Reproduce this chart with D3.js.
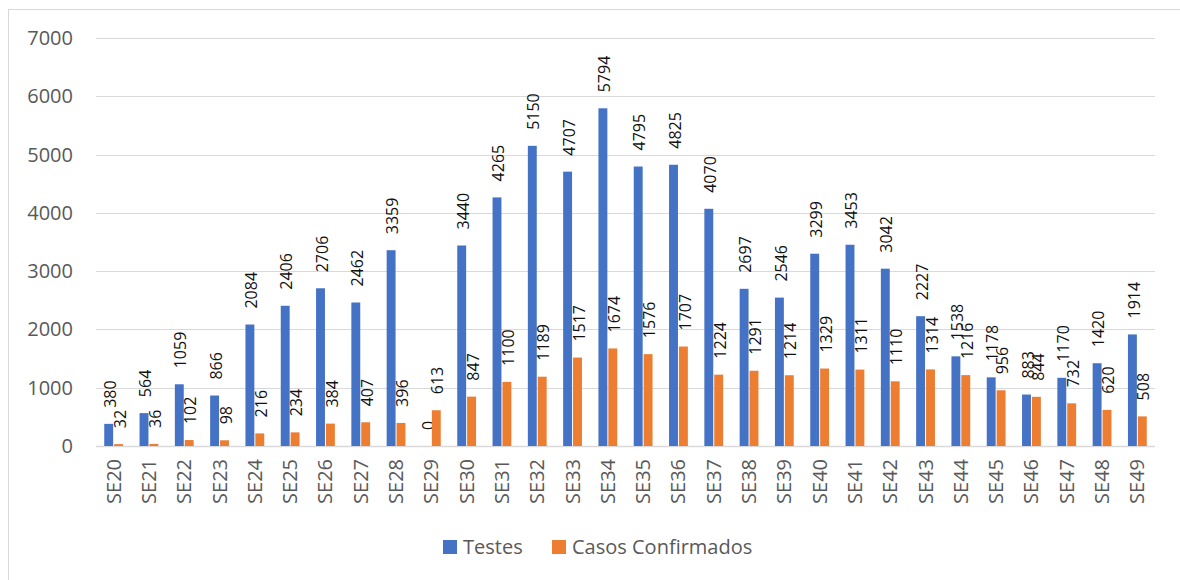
<!DOCTYPE html>
<html lang="pt">
<head>
    <meta charset="UTF-8">
    <title>Testes e Casos Confirmados por SE</title>
    <script src="https://d3js.org/d3.v7.min.js"></script>
    <style>
        body {
            margin: 0;
            background: #fff;
            font-family: "Open Sans", "DejaVu Sans", sans-serif;
        }
        .grid line { stroke: #d9d9d9; stroke-width: 1; }
        .tick-label { fill: #595959; font-size: 20px; }
        .value-label { fill: #111; font-size: 16px; }
    </style>
</head>
<body>
    <svg width="1180" height="580"></svg>
    <script>
        const semanas = ["SE20","SE21","SE22","SE23","SE24","SE25","SE26","SE27","SE28","SE29",
                         "SE30","SE31","SE32","SE33","SE34","SE35","SE36","SE37","SE38","SE39",
                         "SE40","SE41","SE42","SE43","SE44","SE45","SE46","SE47","SE48","SE49"];
        const testes = [380, 564, 1059, 866, 2084, 2406, 2706, 2462, 3359, 0,
                        3440, 4265, 5150, 4707, 5794, 4795, 4825, 4070, 2697, 2546,
                        3299, 3453, 3042, 2227, 1538, 1178, 883, 1170, 1420, 1914];
        const confirmados = [32, 36, 102, 98, 216, 234, 384, 407, 396, 613,
                             847, 1100, 1189, 1517, 1674, 1576, 1707, 1224, 1291, 1214,
                             1329, 1311, 1110, 1314, 1216, 956, 844, 732, 620, 508];
        const yTicks = [0, 1000, 2000, 3000, 4000, 5000, 6000, 7000];
        const seriesNames = ["Testes", "Casos Confirmados"];
        const colors = ["#4472c4", "#ed7d31"];

        const svg = d3.select("svg");

        // chart area border (only left/top visible in the frame)
        svg.append("rect")
            .attr("x", 8.5).attr("y", 9.5)
            .attr("width", 1200).attr("height", 600)
            .attr("fill", "none")
            .attr("stroke", "#d9d9d9");

        const plotLeft = 96, plotRight = 1155, plotTop = 38, plotBottom = 446;

        const x = d3.scaleBand()
            .domain(semanas)
            .range([plotLeft, plotRight]);
        const bw = x.bandwidth();
        const xs = d3.scaleBand()
            .domain(seriesNames)
            .range([bw / 2 - 9.4, bw / 2 + 9.4])
            .paddingInner(0.1);
        const y = d3.scaleLinear()
            .domain([0, 7000])
            .range([plotBottom, plotTop]);

        // gridlines
        svg.append("g")
            .attr("class", "grid")
            .selectAll("line")
            .data(yTicks)
            .join("line")
            .attr("x1", plotLeft).attr("x2", plotRight)
            .attr("y1", d => Math.round(y(d)) + 0.5)
            .attr("y2", d => Math.round(y(d)) + 0.5)
            .style("stroke-width", d => d === 0 ? 1.5 : 1);

        // y labels
        svg.append("g")
            .selectAll("text")
            .data(yTicks)
            .join("text")
            .attr("class", "tick-label")
            .attr("x", 73)
            .attr("y", d => y(d))
            .attr("dy", "0.35em")
            .attr("text-anchor", "end")
            .text(d => d);

        const rows = semanas.map((s, i) => ({ semana: s, values: [testes[i], confirmados[i]] }));

        const groups = svg.append("g")
            .selectAll("g")
            .data(rows)
            .join("g")
            .attr("transform", d => "translate(" + x(d.semana) + ",0)");

        const bars = groups.selectAll("g")
            .data(d => d.values.map((v, k) => ({ key: seriesNames[k], k: k, value: v })))
            .join("g");

        bars.append("rect")
            .attr("x", d => xs(d.key))
            .attr("y", d => y(d.value))
            .attr("width", xs.bandwidth())
            .attr("height", d => y(0) - y(d.value))
            .attr("fill", d => colors[d.k]);

        bars.append("text")
            .attr("class", "value-label")
            .attr("transform", d => "translate(" + (xs(d.key) + xs.bandwidth() / 2 + 1.5) + "," + (y(d.value) - 16) + ") rotate(-90)")
            .attr("dy", "0.35em")
            .attr("text-anchor", "start")
            .text(d => d.value);

        // x labels
        svg.append("g")
            .selectAll("text")
            .data(semanas)
            .join("text")
            .attr("class", "tick-label")
            .attr("transform", d => "translate(" + (x(d) + bw / 2) + "," + (plotBottom + 13) + ") rotate(-90)")
            .attr("dy", "0.35em")
            .attr("text-anchor", "end")
            .text(d => d);

        // legend
        const legendX = [443, 552];
        const legend = svg.append("g")
            .selectAll("g")
            .data(seriesNames)
            .join("g")
            .attr("transform", (d, i) => "translate(" + legendX[i] + ",540)");
        legend.append("rect")
            .attr("width", 14).attr("height", 14)
            .attr("fill", (d, i) => colors[i]);
        legend.append("text")
            .attr("class", "tick-label")
            .attr("x", 20)
            .attr("y", 7)
            .attr("dy", "0.35em")
            .text(d => d);
    </script>
</body>
</html>
